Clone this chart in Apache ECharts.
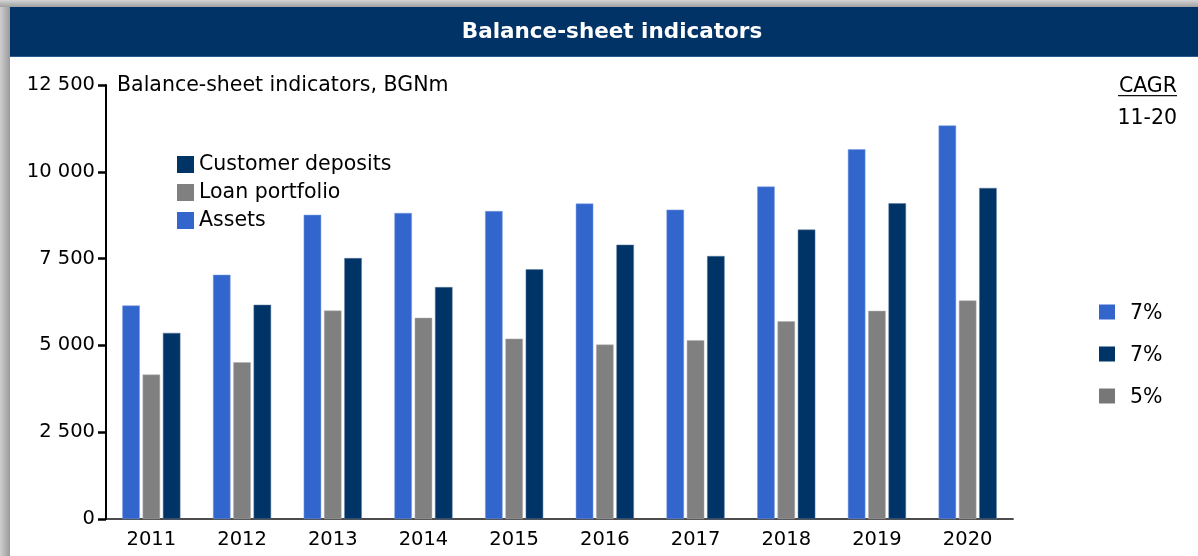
<!DOCTYPE html>
<html>
<head>
<meta charset="utf-8">
<script src="https://cdn.jsdelivr.net/npm/echarts@6/dist/echarts.min.js"></script>
<style>
html, body { margin: 0; padding: 0; background: #fff; }
#frame { position: relative; width: 1198px; height: 556px; overflow: hidden; background: #fff; }
#shadowLeft { position: absolute; left: 0; top: 0; width: 10px; height: 556px; background: linear-gradient(to right, #cfcfcf, #9a9a9a); }
#shadowTop { position: absolute; left: 0; top: 0; width: 1198px; height: 7px; background: linear-gradient(to bottom, #d4d4d4, #a0a0a0); }
#chart { position: absolute; left: 0; top: 0; width: 1198px; height: 556px; }
</style>
</head>
<body>
<div id="frame">
  <div id="shadowLeft"></div>
  <div id="shadowTop"></div>
  <div id="chart"></div>
</div>
<script>
// balance-sheet indicators, BGNm
var years = ['2011', '2012', '2013', '2014', '2015', '2016', '2017', '2018', '2019', '2020'];
var assets = [6150, 7035, 8760, 8815, 8870, 9085, 8910, 9575, 10650, 11335];
var loans = [4160, 4515, 6005, 5795, 5195, 5025, 5150, 5695, 5995, 6295];
var deposits = [5360, 6170, 7515, 6680, 7190, 7900, 7575, 8335, 9095, 9535];

// CAGR 11-20 (assets, deposits, loans)
var cagrLabels = ['7%', '7%', '5%'];
var cagrColors = ['#3366cc', '#003366', '#777777'];

var legendOrder = ['Customer deposits', 'Loan portfolio', 'Assets'];

var font = 'DejaVu Sans, Verdana, sans-serif';

var dom = document.getElementById('chart');
var chart = echarts.init(dom, null, {renderer: 'canvas'});

function fmt(v) {
    return String(v).replace(/\B(?=(\d{3})+(?!\d))/g, ' ');
}

var graphics = [
    {
        type: 'rect',
        shape: {x: 10, y: 7, width: 1188, height: 49},
        style: {fill: '#013366'},
        z: 0
    },
    {
        type: 'rect',
        shape: {x: 10, y: 56, width: 1188, height: 1},
        style: {fill: '#2c5a8a'},
        z: 0
    },
    {
        type: 'text',
        x: 612, y: 32,
        style: {
            text: 'Balance-sheet indicators',
            fill: '#fff',
            font: 'bold 21.5px ' + font,
            textAlign: 'center',
            textVerticalAlign: 'middle'
        }
    },
    {
        type: 'text',
        x: 117, y: 86,
        style: {
            text: 'Balance-sheet indicators, BGNm',
            fill: '#000',
            font: '20.5px ' + font,
            textAlign: 'left',
            textVerticalAlign: 'middle'
        }
    },
    {
        type: 'text',
        x: 1177, y: 87,
        style: {
            text: 'CAGR',
            fill: '#000',
            font: '20.5px ' + font,
            textAlign: 'right',
            textVerticalAlign: 'middle'
        }
    },
    {
        type: 'rect',
        shape: {x: 1118, y: 95, width: 59, height: 1.3},
        style: {fill: '#111'}
    },
    {
        type: 'text',
        x: 1177, y: 119,
        style: {
            text: '11-20',
            fill: '#000',
            font: '20.5px ' + font,
            textAlign: 'right',
            textVerticalAlign: 'middle'
        }
    }
];

cagrLabels.forEach(function (lab, i) {
    var cy = 312 + i * 42;
    graphics.push({
        type: 'rect',
        shape: {x: 1099, y: cy - 7.5, width: 16, height: 15},
        style: {fill: cagrColors[i]}
    });
    graphics.push({
        type: 'text',
        x: 1130, y: cy + 1.5,
        style: {
            text: lab,
            fill: '#000',
            font: '20.5px ' + font,
            textAlign: 'left',
            textVerticalAlign: 'middle'
        }
    });
});

var option = {
    animation: false,
    textStyle: {fontFamily: font},
    graphic: graphics,
    legend: {
        data: legendOrder,
        orient: 'vertical',
        left: 177,
        top: 154,
        padding: 0,
        icon: 'rect',
        itemWidth: 17,
        itemHeight: 17,
        itemGap: 7,
        itemStyle: {borderWidth: 0},
        textStyle: {
            fontSize: 20.5,
            color: '#000',
            fontFamily: font
        }
    },
    grid: {
        left: 106,
        right: 185,
        top: 85,
        bottom: 37,
        containLabel: false
    },
    xAxis: {
        type: 'category',
        data: years,
        axisLine: {lineStyle: {color: '#111', width: 1.7}},
        axisTick: {show: false},
        axisLabel: {
            color: '#000',
            fontSize: 19.5,
            fontFamily: font,
            margin: 11
        }
    },
    yAxis: {
        type: 'value',
        min: 0,
        max: 12500,
        interval: 2500,
        splitLine: {show: false},
        axisLine: {show: true, lineStyle: {color: '#000', width: 2}},
        axisTick: {show: true, length: 8, lineStyle: {color: '#000', width: 2.5}},
        axisLabel: {
            color: '#000',
            fontSize: 19.5,
            fontFamily: font,
            margin: 11,
            formatter: fmt
        }
    },
    series: [
        {
            name: 'Assets',
            type: 'bar',
            data: assets,
            barWidth: 17.5,
            barGap: '16%',
            itemStyle: {color: '#3366cc', borderColor: '#7d9de0', borderWidth: 0.5}
        },
        {
            name: 'Loan portfolio',
            type: 'bar',
            data: loans,
            barWidth: 17.5,
            barGap: '16%',
            itemStyle: {color: '#808080', borderColor: '#b0b0b0', borderWidth: 0.5}
        },
        {
            name: 'Customer deposits',
            type: 'bar',
            data: deposits,
            barWidth: 17.5,
            barGap: '16%',
            itemStyle: {color: '#003366', borderColor: '#5a7a9c', borderWidth: 0.5}
        }
    ]
};

chart.setOption(option);
</script>
</body>
</html>
